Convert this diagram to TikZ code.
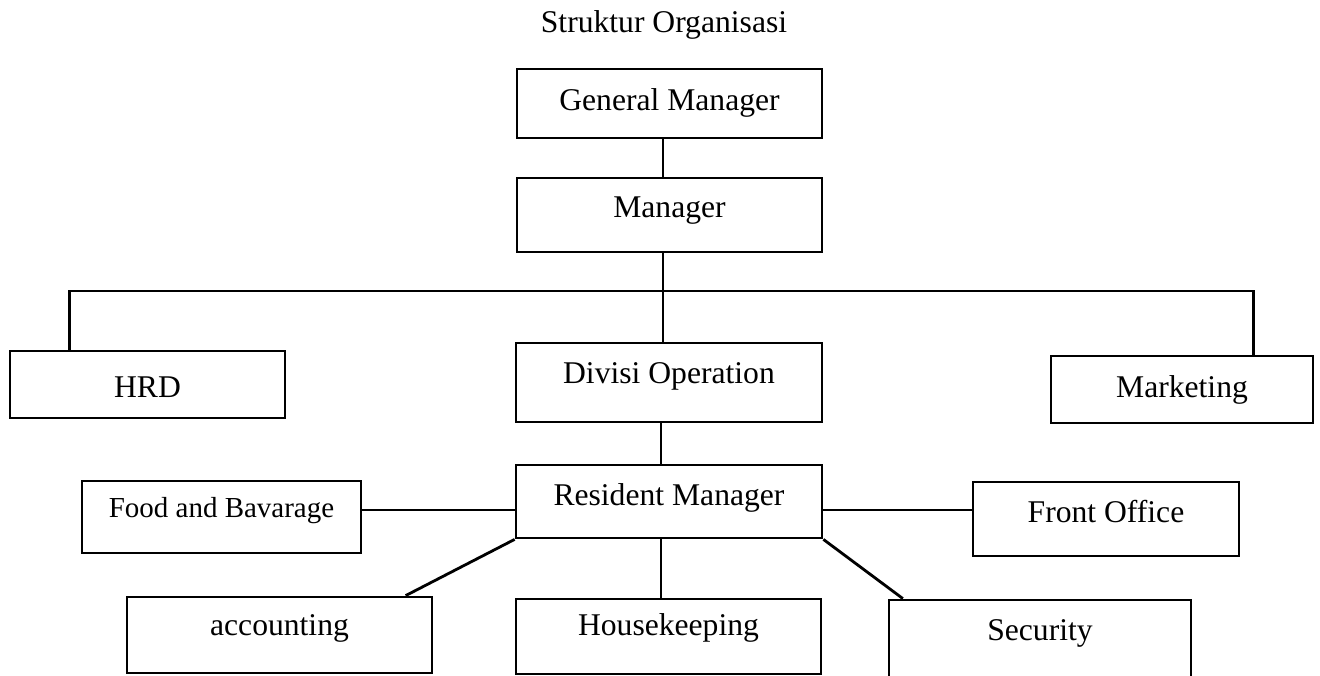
\documentclass[tikz,border=0pt]{standalone}
\usepackage{fontspec}
\setmainfont{Liberation Serif}
\usepackage{tikz}
\usetikzlibrary{positioning, calc}

\begin{document}
\begin{tikzpicture}[
    x=0.02cm, y=-0.02cm,
    orgbox/.style={draw, line width=1.6pt, rectangle, inner sep=0pt,
                   font=\fontsize{18}{20}\selectfont, align=center},
    link/.style={line width=1.6pt}
]
    \useasboundingbox (0,0) rectangle (1320,676);
    \clip (0,0) rectangle (1320,676);

    % Title
    \node[anchor=base, font=\fontsize{18}{20}\selectfont] (title) at (664,32) {Struktur Organisasi};

    % Top management
    \node[orgbox, minimum width=6.10cm, text height=0.82cm, text depth=0.56cm] (gm) at (669.5,103.5) {General Manager};
    \node[orgbox, minimum width=6.10cm, text height=0.78cm, text depth=0.70cm] (mgr) at (669.5,215) {Manager};

    % Divisions
    \node[orgbox, minimum width=5.50cm, text height=0.94cm, text depth=0.40cm] (hrd) at (147.5,384.5) {HRD};
    \node[orgbox, minimum width=6.12cm, text height=0.80cm, text depth=0.78cm] (divop) at (669,382.5) {Divisi Operation};
    \node[orgbox, minimum width=5.24cm, text height=0.82cm, text depth=0.52cm] (mkt) at (1182,389.5) {Marketing};

    % Resident manager and departments
    \node[orgbox, minimum width=6.12cm, text height=0.80cm, text depth=0.66cm] (rm) at (669,501.5) {Resident Manager};
    \node[orgbox, minimum width=5.58cm, text height=0.72cm, text depth=0.72cm,
          font=\fontsize{16.5}{19}\selectfont] (fnb) at (221.5,517) {Food and Bavarage};
    \node[orgbox, minimum width=5.32cm, text height=0.80cm, text depth=0.68cm] (fo) at (1106,519) {Front Office};
    \node[orgbox, minimum width=6.10cm, text height=0.76cm, text depth=0.76cm] (acc) at (279.5,635) {accounting};
    \node[orgbox, minimum width=6.10cm, text height=0.72cm, text depth=0.78cm] (hk) at (668.5,636.5) {Housekeeping};
    \node[orgbox, minimum width=6.04cm, text height=0.80cm, text depth=1.20cm] (sec) at (1040,650) {Security};

    % Connectors
    \coordinate (bus) at (663,291);
    \coordinate (stem) at (661,0);
    \coordinate (lvl) at (0,510);
    \draw[link] (gm.south -| bus) -- (mgr.north -| bus);
    \draw[link] (mgr.south -| bus) -- (divop.north -| bus);
    \draw[link] ($(hrd.north west)!0.22!(hrd.north east)$) |- (bus)
                -| ($(mkt.north west)!0.77!(mkt.north east)$);
    \draw[link] (divop.south -| stem) -- (rm.north -| stem);
    \draw[link] (rm.south -| stem) -- (hk.north -| stem);
    \draw[link] (fnb.east |- lvl) -- (rm.west |- lvl);
    \draw[link] (rm.east |- lvl) -- (fo.west |- lvl);
    \draw[link] (rm.south west) -- ($(acc.north west)!0.91!(acc.north east)$);
    \draw[link] (rm.south east) -- ($(sec.north west)!0.05!(sec.north east)$);
\end{tikzpicture}
\end{document}
